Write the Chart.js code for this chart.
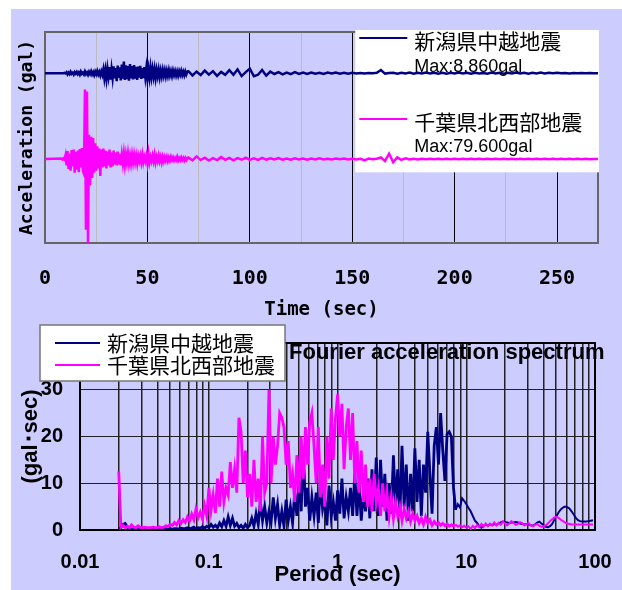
<!DOCTYPE html>
<html>
<head>
<meta charset="utf-8">
<script src="https://cdn.jsdelivr.net/npm/chart.js@4.4.1/dist/chart.umd.min.js"></script>
<style>
html, body { margin: 0; padding: 0; background: #fff; }
#page { position: relative; width: 622px; height: 590px; overflow: hidden; }
#bg { position: absolute; left: 11px; top: 9px; width: 611px; height: 581px; background: #ccccff; }
#timeChart { position: absolute; left: 0; top: 0; }
#spectrumChart { position: absolute; left: 0; top: 320px; }
</style>
</head>
<body>
<div id="page">
  <div id="bg"></div>
  <canvas id="timeChart" width="622" height="330"></canvas>
  <canvas id="spectrumChart" width="622" height="270"></canvas>
</div>
<script>
/* ---------- data ---------- */

const seriesNames = ["新潟県中越地震", "千葉県北西部地震"];
const seriesColors = ["#000080", "#ff00ff"];
const maxLabels = ["Max:8.860gal", "Max:79.600gal"];
// vertical offsets of the two traces in the time-history plot
const traceOffsets = [61, -20.4];

// time history: tick values, grid values
const timeTicks = [0, 50, 100, 150, 200, 250];
const timeGrid = [0, 25, 50, 75, 100, 125, 150, 175, 200, 225, 250];

// acceleration samples: part A every 0.5 s from 8 s, part B every 2 s from 70 s
const accStartA = 8, accStepA = 0.5;
const accStartB = 70, accStepB = 2;

const niigataAccA = [
  0, 0, 0, 0.3, -0.3,
  0.8, -1.2, 0.5, -0.9, 1.3, -0.6, 0.4, -1.4, 0.9, -0.5,
  1.1, -1.0, 0.6, -1.5, 1.4, -0.7, 0.5, -1.2, 1.6, -0.9,
  0.7, -1.6, 1.2, -0.8, 1.8, -1.3, 0.9, -1.9, 1.5, -1.0,
  2.0, -1.4, 1.1, -2.2, 1.7, -1.5,
  3.5, -4.8, 2.6, -5.5, 4.2, -3.1, 5.8, -6.2, 3.9, -4.4,
  6.5, -5.0, 4.8, -7.5, 7.2, -4.6, 5.5, -6.8, 8.0, -5.2,
  11.0, -6.5, 7.4, -5.8, 6.6, -7.2, 8.5, -4.9, 6.8, -6.0,
  7.6, -5.1, 5.9, -6.3, 6.2, -4.2, 7.0, -5.5, 4.8, -4.6,
  5.6, -3.8, 4.9, -5.0, 3.6, -4.1, 5.2, -3.5, 4.0, -3.2,
  3.8, -4.4, 3.0, -2.8, 3.3, -3.6, 2.5, -2.9, 3.1, -2.4,
  2.6, -3.0, 2.2, -2.5, 2.8, -2.1, 1.9, -2.6, 2.3, -1.8,
  2.0, -2.2, 1.6, -2.4, 1.8, -1.5, 2.2, -1.9, 1.4, -2.0, 1.7, -1.3, 1.5
];
const niigataAccB = [
  1.8, -2.2, 1.5, -1.8, 2.4, -1.4, 1.9, -2.6, 1.2, -1.6,
  2.8, -1.5, 3.6, -2.8, 1.0, 4.2, -3.0, -1.5, 3.0, -2.4,
  1.5, -0.8, 0.9, -1.2, 0.6, -0.9, 1.0, -0.7, 0.5, -0.8,
  0.6, -0.5, 0.4, -0.7, 0.5, -0.4, 0.6, -0.5, 0.3, -0.6,
  0.4, -0.3, 0.2, -0.3, 0.2, -0.2, 0.3, 3.0, -0.4, 0.2,
  0.3, -0.5, 0.4, -0.3, 0.5, -0.6, 0.3, -0.4, 0.5, -0.3,
  0.4, -0.5, 0.3, -0.6, 0.4, -0.3, 0.5, -0.4, 0.3, -0.5,
  0.4, -0.3, 0.2, -0.5, 0.6, -0.4, 0.3, -0.5, 0.4, -0.3,
  0.5, -0.4, 0.3, -0.6, 0.4, -0.3, 0.5, -0.4, 0.3, -0.2,
  0.3, -0.2, 0.2, -0.3, 0.2, -0.2, 0.1, -0.1, 0.1, 0, 0
];
const chibaAccA = [
  0.5, -0.4, 0.6, -0.5,
  3.5, -6.0, 7.5, -9.5, 5.0, -11.0, 8.5, -7.0, 9.0, -13.0,
  6.5, -10.0, 8.0, -12.5, 9.5, -8.0, 10.5, -11.5,
  -14, 66, -67, 64, -79.6, 23, -25, 21, -18, 20, -13, 15, -11, 12, -9, 10, -16, 9,
  -8, 10, -7, 8, -9, 7, -6, 9, -8, 6,
  -7, 8, -5, 6, -6, 7, -5, 5, -6, 4,
  -4, 5, -5, 4, -3, 5, -4, 3, -4, 4,
  -3, 4, -3, 3, -4, 3, -2, 3, -3, 4,
  -3, 2, -2, 3, -4, 5, -3, 2, -2, 3,
  -2, 4, -3, 2, -2, 3, -2, 2, -3, 2,
  -2, 2, -1.5, 2, -2, 1.5, -1.5, 2, -1, 1.5,
  -1.5, 1, -1, 2, -1.5, 1, -1, 1.5, -1, 1, -1.5, 1, -1, 1
];
const chibaAccB = [
  1.5, -1.2, 2.5, -1.0, 1.2, -1.5, 0.8, -1.0, 1.8, -0.8,
  1.0, -1.3, 0.8, -0.7, 1.2, -0.9, 0.6, -0.8, 1.0, -0.6,
  0.7, -0.5, 0.9, -0.6, 0.5, -0.7, 0.6, -0.4, 0.5, -0.6,
  0.4, -0.5, 0.6, -0.4, 0.3, -0.5, 0.4, -0.3, 0.5, -0.4,
  0.3, -0.4, 0.3, -1.2, 0.4, -0.3, 0.3, 1.5, -2.0, 5.0,
  -3.0, 1.5, -0.8, 0.6, -0.4, 0.3, -0.4, 0.2, -0.3, 0.2,
  -0.2, 0.3, -0.2, 0.2, -0.3, 0.2, -0.2, 0.3, -0.2, 0.2,
  -0.3, 0.2, -0.2, 0.3, -0.2, 0.2, -0.2, 0.3, -0.2, 0.2,
  -0.2, 0.3, -0.2, 0.2, -0.3, 0.2, -0.2, 0.2, -0.2, 0.3,
  -0.2, 0.2, -0.2, 0.3, -0.2, 0.2, -0.3, 0.2, -0.2, 0.1, 0
];

// Fourier spectrum: tick labels, values on a log period grid (60 per decade from 0.02 s)
const periodTicks = [0.01, 0.1, 1, 10, 100];
const periodTickLabels = ["0.01", "0.1", "1", "10", "100"];
const spectrumTicks = [0, 10, 20, 30, 40];
const specStart = 0.02, specPerDecade = 60;

const niigataSpec = [
  0.3, 0.5, 1.2, 1.4, 0.6, 0.3, 0.2, 0.3, 0.2, 0.2, 0.3,
  0.2, 0.2, 0.3, 0.2, 0.2, 0.2, 0.2, 0.3, 0.2, 0.2,
  0.2, 0.3, 0.2, 0.3, 0.2, 0.3, 0.3, 0.2, 0.4, 0.3,
  0.3, 0.5, 0.3, 0.4, 0.6, 0.3, 0.5, 0.4, 0.7, 0.4,
  0.8, 0.5, 1.2, 0.6, 1.0, 0.5, 1.5, 0.7, 2.0, 0.8,
  2.8, 1.0, 2.5, 0.8, 1.4, 0.5, 1.0, 0.4, 1.2, 0.5,
  1.0, 2.5, 0.8, 3.5, 1.2, 6.0, 2.0, 5.0, 1.5, 4.0,
  1.8, 7.0, 2.5, 5.5, 1.0, 4.0, 0.8, 6.5, 2.0, 5.0,
  1.5, 8.0, 3.0, 10.5, 4.0, 17.0, 5.0, 9.0, 2.0, 7.0,
  3.0, 8.0, 1.5, 10.0, 4.5, 7.0, 1.0, 9.5, 3.0, 6.0,
  2.0, 8.5, 3.5, 11.0, 2.5, 7.0, 4.0, 9.0, 3.0, 12.0,
  3.0, 10.0, 2.0, 8.0, 4.0, 11.0, 2.5, 13.0, 4.0, 15.5,
  3.0, 15.0, 5.0, 12.0, 2.0, 10.0, 3.5, 16.0, 5.0, 13.0,
  3.0, 18.0, 5.0, 14.0, 2.0, 12.0, 4.0, 17.5, 6.0, 15.0,
  3.0, 14.0, 8.0, 21.0, 12.0, 3.5, 18.0, 22.0, 14.0, 25.0, 17.0, 10.5,
  20.5, 21.0, 20.0, 9.0, 4.3, 5.5, 4.8, 6.8, 6.2, 5.5, 4.7, 4.0, 3.0, 2.0, 1.5, 0.8,
  0.5, 0.9, 1.2, 0.9, 1.3, 1.0, 1.3, 1.1, 1.4, 1.6, 1.8, 1.7, 1.6, 1.5, 1.6, 1.6, 1.7, 1.6, 1.4, 1.3, 1.2, 1.3,
  1.2, 1.0, 0.9, 1.2, 1.6, 1.8, 1.4, 1.0, 0.7, 0.6, 0.8, 1.3, 2.2, 3.0, 3.8, 4.4,
  4.8, 5.0, 4.9, 4.6, 4.0, 3.3, 2.6, 2.1, 1.9, 1.8, 1.8, 1.8, 1.9, 2.0, 2.1
];
const chibaSpec = [
  12.5,
  0.6, 1.0, 0.5, 0.8, 0.5, 1.1, 0.6, 0.5, 0.9, 0.5,
  0.5, 0.6, 0.5, 0.5, 0.5, 0.6, 0.5, 0.5, 0.7, 0.5,
  0.6, 0.9, 0.8, 1.2, 1.0, 1.6, 1.1, 2.0, 1.4, 2.2,
  1.6, 2.8, 1.9, 3.4, 2.2, 4.5, 2.6, 3.8, 2.4, 5.2,
  3.0, 9.0, 4.2, 7.5, 3.6, 11.0, 5.0, 12.5, 6.0, 9.0,
  7.5, 14.5, 9.0, 13.0, 8.0, 24.0, 21.0, 10.0, 17.0, 7.0,
  12, 5, 15, 6, 11, 4, 20, 8, 10, 30,
  10, 20, 14, 18, 25, 24, 22, 14, 19, 9,
  12, 6, 16, 8, 20, 11, 22, 14, 23, 25,
  18, 10, 22, 7, 14, 5, 20, 11, 26, 15,
  24, 29, 20, 27, 13, 22, 26, 15, 25, 10,
  19, 8, 17, 6, 14, 5, 11, 4, 12, 6,
  9, 3, 10, 4, 8, 3, 7, 2.5, 6, 3,
  5, 2, 4.5, 2.5, 4, 1.8, 3.5, 2, 3, 1.5,
  2.5, 1.2, 2.8, 1.5, 2.2, 1.0, 1.8, 1.2, 1.6, 1.0,
  1.4, 0.9, 1.3, 0.8, 1.1, 0.9, 1.2, 0.7, 1.0, 0.6, 0.9,
  0.5, 0.8, 0.2, 0.9, 0.4, 1.1, 0.6, 1.3, 0.7, 1.4, 0.8, 1.3, 1.0, 1.6,
  1.0, 1.5, 1.1, 1.8, 1.4, 1.0, 1.4, 1.9, 1.5, 1.1, 1.3, 1.7, 1.5, 1.0, 1.2,
  1.5, 1.0, 0.8, 1.1, 1.3, 0.9, 0.7, 0.8, 1.0, 1.4, 1.9, 2.3, 2.7, 2.8, 2.6,
  2.2, 1.9, 1.6, 1.4, 1.3, 1.2, 1.2, 1.2, 1.2, 1.2, 1.2, 1.2, 1.2, 1.2, 1.2, 1.2
];

/* ---------- helpers ---------- */

function buildTrace(partA, partB, offset) {
  const pts = [{ x: 0, y: offset }];
  partA.forEach((v, i) => pts.push({ x: accStartA + i * accStepA, y: v + offset }));
  partB.forEach((v, i) => pts.push({ x: accStartB + i * accStepB, y: v + offset }));
  return pts;
}

function buildSpectrum(values) {
  return values.map((v, i) => ({ x: specStart * Math.pow(10, i / specPerDecade), y: v }));
}

function periodGrid() {
  const grid = [];
  for (let d = 0; d < periodTicks.length - 1; d++) {
    for (let k = 1; k <= 9; k++) grid.push({ value: periodTicks[d] * k });
  }
  grid.push({ value: periodTicks[periodTicks.length - 1] });
  return grid;
}

// keep the plot area where the layout padding puts it
function fixSize(s, size) {
  if (s.isHorizontal()) s.height = size; else s.width = size;
  s.paddingLeft = 0;
  s.paddingRight = 0;
  s.paddingTop = 0;
  s.paddingBottom = 0;
}

const monoBold = (size) => ({ family: "'DejaVu Sans Mono', monospace", size, weight: "bold" });
const arialBold = (size) => ({ family: "'Liberation Sans', Arial, sans-serif", size, weight: "bold" });

/* ---------- time history ---------- */

const timeDecor = {
  id: "timeDecor",
  beforeDatasetsDraw(chart) {
    const { ctx, chartArea: a, scales } = chart;
    ctx.save();
    ctx.strokeStyle = "#666";
    ctx.lineWidth = 2;
    ctx.strokeRect(a.left, a.top, a.right - a.left, a.bottom - a.top);
    // white legend panel
    const left = scales.x.getPixelForValue(151.5);
    const bottom = scales.y.getPixelForValue(-33);
    ctx.fillStyle = "#fff";
    ctx.fillRect(left, a.top - 2, a.right - left + 1, bottom - a.top + 2);
    ctx.restore();
  },
  afterDatasetsDraw(chart) {
    const { ctx, chartArea: a, scales } = chart;
    const left = scales.x.getPixelForValue(151.5);
    const rows = [[6, 9, 35], [87, 90, 115]];
    ctx.save();
    chart.data.datasets.forEach((ds, i) => {
      const r = rows[i];
      ctx.strokeStyle = ds.borderColor;
      ctx.lineWidth = 2;
      ctx.beginPath();
      ctx.moveTo(left + 4, a.top + r[0]);
      ctx.lineTo(left + 52, a.top + r[0]);
      ctx.stroke();
      ctx.fillStyle = "#000";
      ctx.textBaseline = "middle";
      ctx.textAlign = "left";
      ctx.font = "21px 'Noto Sans CJK JP'";
      ctx.fillText(ds.label, left + 59, a.top + r[1]);
      ctx.font = "18px 'Liberation Sans', Arial";
      ctx.fillText(maxLabels[i], left + 59, a.top + r[2]);
    });
    ctx.restore();
  }
};

new Chart(document.getElementById("timeChart"), {
  type: "line",
  data: {
    datasets: [
      {
        label: seriesNames[0],
        data: buildTrace(niigataAccA, niigataAccB, traceOffsets[0]),
        borderColor: seriesColors[0],
        borderWidth: 2.5,
        pointRadius: 0,
        order: 2
      },
      {
        label: seriesNames[1],
        data: buildTrace(chibaAccA, chibaAccB, traceOffsets[1]),
        borderColor: seriesColors[1],
        borderWidth: 2.5,
        pointRadius: 0,
        order: 1
      }
    ]
  },
  options: {
    responsive: false,
    animation: false,
    layout: { padding: { top: 32, right: 24, left: 0, bottom: 0 } },
    plugins: { legend: { display: false }, tooltip: { enabled: false } },
    scales: {
      x: {
        type: "linear",
        min: 0,
        max: 270,
        afterBuildTicks: (s) => { s.ticks = timeGrid.map(v => ({ value: v })); },
        afterFit: (s) => fixSize(s, 87),
        ticks: {
          autoSkip: false,
          maxRotation: 0,
          padding: 24,
          color: "#000",
          font: monoBold(20),
          callback: (v) => timeTicks.includes(v) ? String(v) : ""
        },
        grid: {
          drawTicks: false,
          lineWidth: 1,
          color: (c) => c.tick && c.tick.value % 50 === 0 ? "#000" : "#bbb"
        },
        border: { display: false },
        title: {
          display: true,
          text: "Time (sec)",
          color: "#000",
          font: monoBold(19),
          padding: { top: 0, bottom: 8.6 }
        }
      },
      y: {
        min: -100,
        max: 100,
        afterFit: (s) => fixSize(s, 45),
        ticks: { display: false },
        grid: { display: false },
        border: { display: false },
        title: {
          display: true,
          text: "Acceleration (gal)",
          color: "#000",
          font: monoBold(18),
          padding: { top: 17, bottom: 0 }
        }
      }
    }
  },
  plugins: [timeDecor]
});

/* ---------- Fourier spectrum ---------- */

const spectrumDecor = {
  id: "spectrumDecor",
  beforeDatasetsDraw(chart) {
    const { ctx, chartArea: a } = chart;
    ctx.save();
    ctx.strokeStyle = "#000";
    ctx.lineWidth = 2;
    ctx.strokeRect(a.left, a.top, a.right - a.left, a.bottom - a.top);
    ctx.restore();
  },
  afterDatasetsDraw(chart) {
    const { ctx, chartArea: a } = chart;
    ctx.save();
    // legend box
    const bx = a.left - 40, by = a.top - 18, bw = 245, bh = 56;
    ctx.fillStyle = "#fff";
    ctx.fillRect(bx, by, bw, bh);
    ctx.strokeStyle = "#777";
    ctx.lineWidth = 1.5;
    ctx.strokeRect(bx, by, bw, bh);
    const rows = [18, 40];
    chart.data.datasets.forEach((ds, i) => {
      ctx.strokeStyle = ds.borderColor;
      ctx.lineWidth = 2;
      ctx.beginPath();
      ctx.moveTo(bx + 15, by + rows[i]);
      ctx.lineTo(bx + 60, by + rows[i]);
      ctx.stroke();
      ctx.fillStyle = "#000";
      ctx.textAlign = "left";
      ctx.textBaseline = "middle";
      ctx.font = "21px 'Noto Sans CJK JP'";
      ctx.fillText(ds.label, bx + 67, by + rows[i]);
    });
    // chart title
    ctx.fillStyle = "#000";
    ctx.font = "bold 22px 'Liberation Sans', Arial";
    ctx.textAlign = "left";
    ctx.textBaseline = "middle";
    ctx.fillText("Fourier acceleration spectrum", a.left + 209, a.top + 10);
    ctx.restore();
  }
};

// thicker strokes where the spectra are dense
const denseWidth = (c) => c.p1DataIndex < 158 ? 2.8 : 2;

new Chart(document.getElementById("spectrumChart"), {
  type: "line",
  data: {
    datasets: [
      {
        label: seriesNames[0],
        data: buildSpectrum(niigataSpec),
        borderColor: seriesColors[0],
        borderWidth: 2,
        segment: { borderWidth: denseWidth },
        pointRadius: 0,
        order: 2
      },
      {
        label: seriesNames[1],
        data: buildSpectrum(chibaSpec),
        borderColor: seriesColors[1],
        borderWidth: 2,
        segment: { borderWidth: denseWidth },
        pointRadius: 0,
        order: 1
      }
    ]
  },
  options: {
    responsive: false,
    animation: false,
    layout: { padding: { top: 23, right: 27, left: 0, bottom: 0 } },
    plugins: { legend: { display: false }, tooltip: { enabled: false } },
    scales: {
      x: {
        type: "logarithmic",
        min: periodTicks[0],
        max: periodTicks[periodTicks.length - 1],
        afterBuildTicks: (s) => { s.ticks = periodGrid(); },
        afterFit: (s) => fixSize(s, 60),
        ticks: {
          autoSkip: false,
          maxRotation: 0,
          padding: 20,
          color: "#000",
          font: arialBold(20),
          callback: (v) => {
            const k = periodTicks.findIndex(p => Math.abs(p - v) < p * 1e-6);
            return k >= 0 ? periodTickLabels[k] : "";
          }
        },
        grid: { drawTicks: false, lineWidth: 1.5, color: "#222" },
        border: { display: false },
        title: {
          display: true,
          text: "Period (sec)",
          color: "#000",
          font: arialBold(22),
          padding: { top: 0, bottom: 1.8 }
        }
      },
      y: {
        min: 0,
        max: 40,
        afterBuildTicks: (s) => { s.ticks = spectrumTicks.map(v => ({ value: v })); },
        afterFit: (s) => fixSize(s, 80),
        ticks: {
          padding: 17,
          color: "#000",
          font: arialBold(20),
          callback: (v) => v === spectrumTicks[spectrumTicks.length - 1] ? "" : String(v)
        },
        grid: { drawTicks: false, lineWidth: 1, color: "#222" },
        border: { display: false },
        title: {
          display: true,
          text: "(gal･sec)",
          color: "#000",
          font: arialBold(22),
          padding: { top: 18, bottom: 0 }
        }
      }
    }
  },
  plugins: [spectrumDecor]
});
</script>
</body>
</html>
